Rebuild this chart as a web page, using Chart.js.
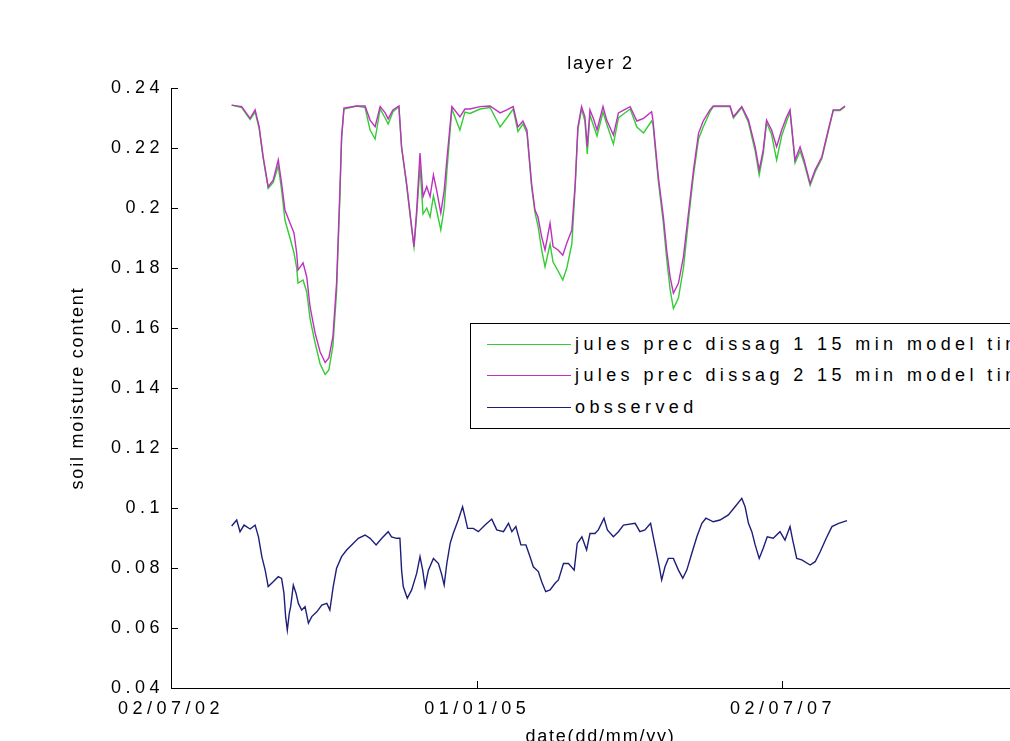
<!DOCTYPE html>
<html>
<head>
<meta charset="utf-8">
<script src="https://cdn.jsdelivr.net/npm/chart.js@4.4.1/dist/chart.umd.min.js"></script>
<style>
  html, body { margin: 0; padding: 0; background: #fff; }
  #wrap { position: relative; width: 1010px; height: 741px; overflow: hidden; }
  #chart { position: absolute; left: 0; top: 0; }
  #legend {
    position: absolute; left: 470px; top: 323px; width: 640px; height: 104px;
    border: 1px solid #000; background: #fff;
    font: 18px "Liberation Sans", Arial, sans-serif; color: #000; letter-spacing: 4.4px;
  }
  #legend .row { position: absolute; left: 0; height: 20px; line-height: 20px; white-space: nowrap; }
  #legend .swatch { position: absolute; left: 16px; top: 10px; width: 84px; height: 0; border-top: 1.4px solid; }
  #legend .label { position: absolute; left: 104px; top: 0; }
</style>
</head>
<body>
<div id="wrap">
  <canvas id="chart" width="1040" height="760"></canvas>
  <div id="legend"></div>
</div>
<script>
// x values are days since 02/07/02
const tickDays = [0, 914, 1826];
const tickLabels = ['02/07/02', '01/01/05', '02/07/07'];
const xMax = 2563;

const modelDays = [181, 211, 236, 251, 263, 275, 290, 305, 320, 330, 340, 355, 367, 375, 379, 394, 405, 415, 430, 445,
  460, 471, 483, 494, 504, 509, 516, 554, 579, 594, 609, 624, 639, 648, 662, 680, 688, 703, 718, 725,
  733, 743, 752, 763, 773, 783, 793, 805, 815, 823, 838, 862, 877, 892, 922, 952, 982, 1002, 1021, 1035,
  1050, 1062, 1076, 1086, 1095, 1106, 1116, 1131, 1140, 1155, 1169, 1181, 1196, 1206, 1214, 1225, 1235, 1242, 1250, 1262,
  1271, 1289, 1300, 1320, 1335, 1352, 1370, 1390, 1410, 1434, 1438, 1454, 1469, 1479, 1489, 1499, 1514, 1529, 1544, 1559,
  1574, 1588, 1608, 1618, 1668, 1678, 1703, 1723, 1743, 1755, 1767, 1777, 1792, 1807, 1822, 1837, 1847, 1862, 1877, 1889,
  1907, 1922, 1942, 1961, 1976, 1996, 2011];

const dissag1 = [0.2343, 0.2335, 0.2295, 0.2320, 0.2265, 0.2165, 0.2065, 0.2085, 0.2140, 0.2060, 0.1960, 0.1900, 0.1850, 0.1800, 0.1750, 0.1760, 0.1720, 0.1630, 0.1550, 0.1480,
  0.1445, 0.1460, 0.1540, 0.1720, 0.2040, 0.2230, 0.2330, 0.2340, 0.2335, 0.2260, 0.2230, 0.2330, 0.2300, 0.2280, 0.2320, 0.2338, 0.2200, 0.2075, 0.1930, 0.1870,
  0.1975, 0.2140, 0.1980, 0.2000, 0.1970, 0.2040, 0.1990, 0.1927, 0.2000, 0.2120, 0.2330, 0.2260, 0.2320, 0.2315, 0.2330, 0.2335, 0.2270, 0.2300, 0.2330, 0.2255,
  0.2280, 0.2250, 0.2070, 0.1985, 0.1940, 0.1860, 0.1804, 0.1880, 0.1820, 0.1790, 0.1760, 0.1800, 0.1880, 0.2070, 0.2260, 0.2330, 0.2290, 0.2180, 0.2310, 0.2270,
  0.2240, 0.2320, 0.2280, 0.2213, 0.2300, 0.2315, 0.2330, 0.2270, 0.2250, 0.2290, 0.2280, 0.2090, 0.1950, 0.1830, 0.1730, 0.1665, 0.1700, 0.1800, 0.1960, 0.2110,
  0.2230, 0.2270, 0.2320, 0.2338, 0.2338, 0.2300, 0.2335, 0.2285, 0.2190, 0.2110, 0.2180, 0.2285, 0.2245, 0.2160, 0.2240, 0.2290, 0.2320, 0.2150, 0.2190, 0.2150,
  0.2075, 0.2120, 0.2165, 0.2255, 0.2325, 0.2325, 0.2338];

const dissag2 = [0.2343, 0.2338, 0.2299, 0.2327, 0.2271, 0.2171, 0.2071, 0.2093, 0.2160, 0.2082, 0.1993, 0.1950, 0.1917, 0.1850, 0.1793, 0.1817, 0.1770, 0.1670, 0.1583, 0.1520,
  0.1485, 0.1500, 0.1570, 0.1750, 0.2060, 0.2238, 0.2333, 0.2340, 0.2340, 0.2293, 0.2271, 0.2338, 0.2317, 0.2297, 0.2327, 0.2340, 0.2204, 0.2082, 0.1938, 0.1871,
  0.1993, 0.2183, 0.2038, 0.2071, 0.2038, 0.2110, 0.2057, 0.1983, 0.2057, 0.2160, 0.2338, 0.2304, 0.2330, 0.2330, 0.2338, 0.2340, 0.2317, 0.2327, 0.2338, 0.2270,
  0.2290, 0.2260, 0.2080, 0.1993, 0.1970, 0.1904, 0.1860, 0.1949, 0.1871, 0.1860, 0.1843, 0.1883, 0.1927, 0.2083, 0.2270, 0.2338, 0.2304, 0.2204, 0.2327, 0.2293,
  0.2260, 0.2338, 0.2293, 0.2243, 0.2317, 0.2327, 0.2338, 0.2290, 0.2299, 0.2321, 0.2293, 0.2104, 0.1971, 0.1860, 0.1771, 0.1716, 0.1749, 0.1838, 0.1983, 0.2127,
  0.2249, 0.2290, 0.2327, 0.2340, 0.2340, 0.2304, 0.2338, 0.2293, 0.2204, 0.2127, 0.2193, 0.2293, 0.2260, 0.2204, 0.2260, 0.2304, 0.2327, 0.2160, 0.2204, 0.2160,
  0.2082, 0.2127, 0.2171, 0.2260, 0.2327, 0.2327, 0.2340];

const obsDays = [181, 196, 206, 218, 236, 251, 261, 271, 281, 290, 305, 320, 330, 337, 342, 347, 353, 357, 365, 373,
  380, 390, 400, 410, 420, 435, 450, 465, 474, 484, 494, 509, 524, 539, 559, 579, 594, 612, 629, 648,
  658, 673, 683, 688, 693, 705, 718, 733, 743, 751, 758, 768, 783, 798, 808, 815, 823, 833, 842, 857,
  870, 877, 885, 902, 917, 937, 957, 972, 992, 1007, 1017, 1029, 1044, 1059, 1071, 1081, 1096, 1106, 1118, 1131,
  1146, 1156, 1171, 1186, 1203, 1212, 1226, 1240, 1250, 1265, 1275, 1292, 1302, 1320, 1335, 1350, 1385, 1399, 1414, 1431,
  1439, 1449, 1457, 1464, 1474, 1484, 1499, 1514, 1527, 1539, 1554, 1569, 1584, 1596, 1618, 1638, 1663, 1683, 1703, 1713,
  1723, 1733, 1743, 1755, 1767, 1779, 1797, 1817, 1832, 1847, 1855, 1867, 1882, 1907, 1922, 1937, 1955, 1972, 1992, 2017];

const observed = [0.0940, 0.0960, 0.0921, 0.0943, 0.0930, 0.0943, 0.0904, 0.0838, 0.0793, 0.0738, 0.0754, 0.0771, 0.0765, 0.0716, 0.0638, 0.0593, 0.0650, 0.0671, 0.0743, 0.0716,
  0.0682, 0.0660, 0.0671, 0.0616, 0.0638, 0.0654, 0.0676, 0.0682, 0.0660, 0.0738, 0.0799, 0.0838, 0.0860, 0.0877, 0.0899, 0.0910, 0.0899, 0.0877, 0.0899, 0.0921,
  0.0904, 0.0899, 0.0899, 0.0793, 0.0738, 0.0699, 0.0727, 0.0782, 0.0838, 0.0793, 0.0738, 0.0793, 0.0832, 0.0815, 0.0777, 0.0743, 0.0815, 0.0882, 0.0915, 0.0960,
  0.1004, 0.0971, 0.0932, 0.0932, 0.0921, 0.0943, 0.0963, 0.0927, 0.0921, 0.0949, 0.0921, 0.0938, 0.0877, 0.0877, 0.0838, 0.0804, 0.0788, 0.0754, 0.0721, 0.0727,
  0.0749, 0.0760, 0.0815, 0.0815, 0.0793, 0.0882, 0.0904, 0.0860, 0.0915, 0.0915, 0.0927, 0.0966, 0.0927, 0.0904, 0.0921, 0.0943, 0.0949, 0.0921, 0.0927, 0.0949,
  0.0904, 0.0849, 0.0804, 0.0760, 0.0804, 0.0832, 0.0832, 0.0793, 0.0766, 0.0793, 0.0849, 0.0904, 0.0949, 0.0966, 0.0954, 0.0960, 0.0977, 0.1004, 0.1032, 0.1004,
  0.0949, 0.0921, 0.0877, 0.0832, 0.0866, 0.0904, 0.0899, 0.0921, 0.0893, 0.0938, 0.0893, 0.0832, 0.0827, 0.0810, 0.0821, 0.0854, 0.0899, 0.0938, 0.0949, 0.0958];

const seriesNames = ['jules prec dissag 1 15 min model time step', 'jules prec dissag 2 15 min model time step', 'obsserved'];
const seriesColors = ['#33cc33', '#c030c0', '#1e1e7a'];

const FONT = { family: '"Liberation Sans", Arial, sans-serif', size: 18, weight: 'normal' };

const toPoints = (xs, ys) => xs.map((x, i) => ({ x: x, y: ys[i] }));

// the figure font is a wide screen font: titles get a little spacing, tick labels more
const spacingPlugin = {
  id: 'spacing',
  beforeDraw: (chart) => { chart.ctx.letterSpacing = '1.8px'; },
  afterDatasetsDraw: (chart) => { chart.ctx.letterSpacing = '4.5px'; }
};

const ctx = document.getElementById('chart').getContext('2d');
const chart = new Chart(ctx, {
  type: 'line',
  data: {
    datasets: [
      { label: seriesNames[0], data: toPoints(modelDays, dissag1), borderColor: seriesColors[0], order: 3 },
      { label: seriesNames[1], data: toPoints(modelDays, dissag2), borderColor: seriesColors[1], order: 2 },
      { label: seriesNames[2], data: toPoints(obsDays, observed), borderColor: seriesColors[2], order: 1 }
    ]
  },
  options: {
    responsive: false,
    animation: false,
    elements: {
      line: { borderWidth: 1.4, tension: 0, fill: false },
      point: { radius: 0 }
    },
    layout: { padding: { left: 0, right: 10, top: 0, bottom: 0 } },
    plugins: {
      legend: { display: false },
      tooltip: { enabled: false },
      title: {
        display: true,
        text: 'layer 2',
        color: '#000',
        font: FONT,
        fullSize: false,
        padding: { top: 53, bottom: 13.4 }
      }
    },
    scales: {
      x: {
        type: 'linear',
        min: 0,
        max: xMax,
        afterBuildTicks: (scale) => { scale.ticks = tickDays.map(v => ({ value: v })); },
        afterFit: (scale) => { scale.height = 72; },
        ticks: {
          z: 1,
          autoSkip: false,
          maxRotation: 0,
          padding: 17,
          color: '#000',
          font: FONT,
          callback: (value, index) => tickLabels[index]
        },
        grid: { display: true, drawOnChartArea: false, drawTicks: true, tickLength: -7, color: '#000', lineWidth: 1 },
        border: { display: true, color: '#000', width: 1 },
        title: { display: true, text: 'date(dd/mm/yy)', color: '#000', font: FONT, padding: { top: 0, bottom: 12 } }
      },
      y: {
        min: 0.04,
        max: 0.24,
        afterFit: (scale) => { scale.width = 171; },
        ticks: {
          z: 1,
          stepSize: 0.02,
          padding: 14,
          color: '#000',
          font: FONT,
          callback: (value) => String(Number(value.toFixed(2)))
        },
        grid: { display: true, drawOnChartArea: false, drawTicks: true, tickLength: -7, color: '#000', lineWidth: 1 },
        border: { display: true, color: '#000', width: 1 },
        title: { display: true, text: 'soil moisture content', color: '#000', font: FONT, padding: { top: 67, bottom: 0 } }
      }
    }
  },
  plugins: [spacingPlugin]
});

// legend in the MATLAB style, placed over the plot
const legend = document.getElementById('legend');
const rowTops = [10, 41, 73];
chart.data.datasets.forEach((ds, i) => {
  const row = document.createElement('div');
  row.className = 'row';
  row.style.top = rowTops[i] + 'px';
  row.innerHTML = '<span class="swatch" style="border-top-color:' + ds.borderColor + '"></span>' +
                  '<span class="label">' + ds.label + '</span>';
  legend.appendChild(row);
});
</script>
</body>
</html>
